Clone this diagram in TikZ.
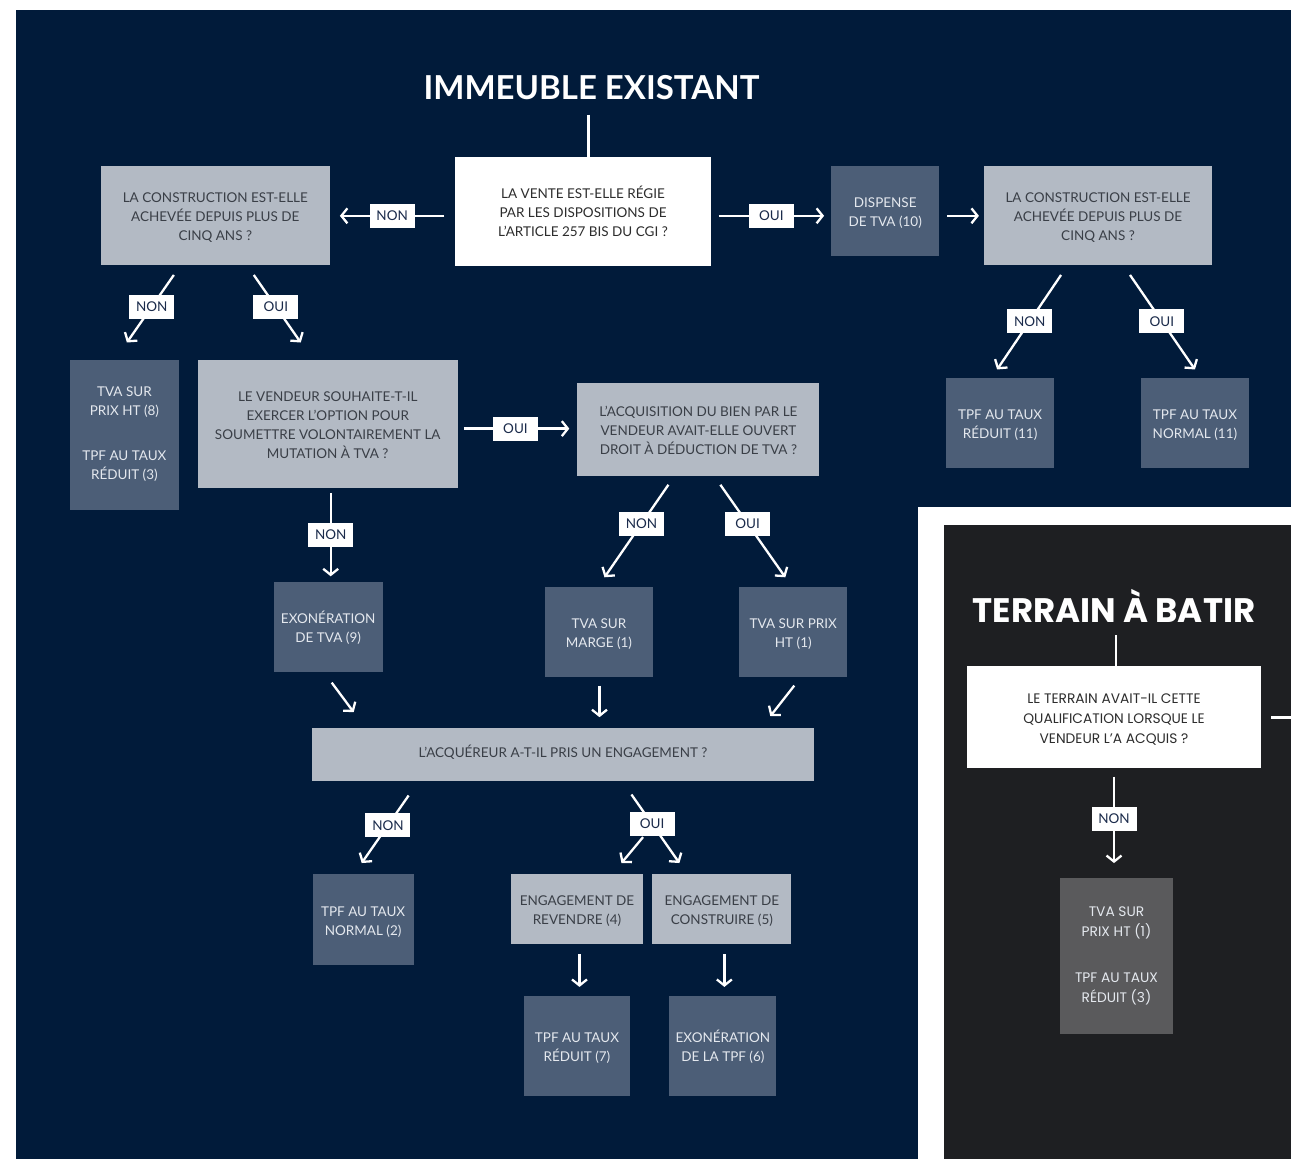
\documentclass[tikz,border=0pt]{standalone}
\usepackage{fontspec}
\setmainfont{Lato}
\newfontfamily\terrfont{Poppins}
\usetikzlibrary{arrows.meta,calc}
\definecolor{navy}{HTML}{011B3A}
\definecolor{lgray}{HTML}{B3BAC4}
\definecolor{slate}{HTML}{4C5E77}
\definecolor{charc}{HTML}{1E1F22}
\definecolor{tgray}{HTML}{5A5A5C}
\definecolor{darktxt}{HTML}{3A3F47}
\definecolor{wtxt}{HTML}{2D2D2D}
\definecolor{lbltxt}{HTML}{1B2B4B}
\definecolor{restxt}{HTML}{E4E8EE}
\newcommand{\bxfont}{\fontsize{13.5}{19}\selectfont}
\newcommand{\tbxfont}{\terrfont\fontsize{13.8}{20}\selectfont}
\newcommand{\TopR}{\rule{0pt}{18pt}}
\newcommand{\BotR}{\rule[-6pt]{0pt}{6pt}}
\newcommand{\TopS}{\rule{0pt}{14pt}}
\newcommand{\BotS}{\rule[-8pt]{0pt}{8pt}}
\begin{document}
\begin{tikzpicture}[x=1pt,y=-1pt,
  base/.style={inner sep=0pt,align=center,font=\bxfont},
  qw/.style={base,fill=white,text=wtxt},
  qg/.style={base,fill=lgray,text=darktxt},
  rs/.style={base,fill=slate,text=restxt},
  sz/.style 2 args={minimum width=#1pt,minimum height=#2pt},
  lbl/.style={fill=white,text=lbltxt,font=\bxfont,inner sep=0pt,minimum width=45pt,minimum height=24pt},
  ln/.style={draw=white,line width=2.3pt},
  arr/.style={ln,-{Straight Barb[length=6pt,width=15pt,line width=2.3pt]}},
  ttl/.style={text=white,inner sep=0pt}
]
% backgrounds
\fill[white] (0,0) rectangle (1292,1160);
\fill[navy] (16,10) rectangle (1292,1160);
\fill[white] (919,507) rectangle (1292,1160);
\fill[charc] (945,525) rectangle (1292,1160);

% titles
\node[ttl,font=\fontsize{33}{36}\selectfont\bfseries] (title1) at (592,88) {IMMEUBLE EXISTANT};
\node[ttl,font=\terrfont\fontsize{34}{38}\selectfont\bfseries] (title2) at (1115,606) {TERRAIN À BATIR};

% nodes
\node[qw,sz={257}{109}] (Q1) at (583.5,211.5) {\TopR LA VENTE EST-ELLE RÉGIE\\PAR LES DISPOSITIONS DE\\L’ARTICLE 257 BIS DU CGI ?\BotR};
\node[qg,sz={229}{99}] (A) at (215.5,215.5) {\TopR LA CONSTRUCTION EST-ELLE\\ACHEVÉE DEPUIS PLUS DE\\CINQ ANS ?\BotR};
\node[rs,sz={108}{90}] (DISP) at (886,211) {\TopR DISPENSE\\DE TVA (10)\BotR};
\node[qg,sz={228}{99}] (B) at (1099,215.5) {\TopR LA CONSTRUCTION EST-ELLE\\ACHEVÉE DEPUIS PLUS DE\\CINQ ANS ?\BotR};
\node[rs,sz={108}{90}] (C1) at (1001,423) {\TopR TPF AU TAUX\\RÉDUIT (11)\BotR};
\node[rs,sz={108}{90}] (C2) at (1196,423) {\TopR TPF AU TAUX\\NORMAL (11)\BotR};
\node[rs,sz={109}{150}] (TVA8) at (124.5,435) {\TopS TVA SUR\\PRIX HT (8)\\[26pt]TPF AU TAUX\\RÉDUIT (3)\BotS};
\node[qg,sz={260}{128}] (D) at (328,424) {\TopR LE VENDEUR SOUHAITE-T-IL\\EXERCER L’OPTION POUR\\SOUMETTRE VOLONTAIREMENT LA\\MUTATION À TVA ?\BotR};
\node[qg,sz={242}{93}] (E) at (699,429.5) {\TopR L’ACQUISITION DU BIEN PAR LE\\VENDEUR AVAIT-ELLE OUVERT\\DROIT À DÉDUCTION DE TVA ?\BotR};
\node[rs,sz={109}{90}] (F) at (328.5,628) {\TopR EXONÉRATION\\DE TVA (9)\BotR};
\node[rs,sz={109}{90}] (G) at (599.5,633) {\TopR TVA SUR\\MARGE (1)\BotR};
\node[rs,sz={108}{90}] (H) at (794,633) {\TopR TVA SUR PRIX\\HT (1)\BotR};
\node[qg,sz={503}{53}] (I) at (563.5,755.5) {\TopS L’ACQUÉREUR A-T-IL PRIS UN ENGAGEMENT ?\BotS};
\node[rs,sz={101}{91}] (J) at (363.5,920.5) {\TopR TPF AU TAUX\\NORMAL (2)\BotR};
\node[qg,sz={133}{70}] (K1) at (577.5,910) {\TopR ENGAGEMENT DE\\REVENDRE (4)\BotR};
\node[qg,sz={139}{70}] (K2) at (722.5,910) {\TopR ENGAGEMENT DE\\CONSTRUIRE (5)\BotR};
\node[rs,sz={107}{100}] (L1) at (577.5,1047) {\TopR TPF AU TAUX\\RÉDUIT (7)\BotR};
\node[rs,sz={107}{100}] (L2) at (723.5,1047) {\TopR EXONÉRATION\\DE LA TPF (6)\BotR};
\node[qw,sz={294}{102},font=\tbxfont,text=wtxt] (TQ) at (1115,718) {\TopR LE TERRAIN AVAIT-IL CETTE\\QUALIFICATION LORSQUE LE\\VENDEUR L’A ACQUIS ?\BotR};
\node[base,fill=tgray,text=restxt,sz={113}{156},font=\tbxfont] (TG) at (1117.5,957) {\TopS TVA SUR\\PRIX HT (1)\\[26pt]TPF AU TAUX\\RÉDUIT (3)\BotS};
\coordinate (redge) at (1292,718);

% connectors
\draw[ln] ($(Q1.north)+(5.5,-42)$) -- ($(Q1.north)+(5.5,0)$);
\draw[arr] ($(Q1.west)+(-10,4.5)$) -- node[lbl,pos=0.5]{NON} ($(A.east)+(10,0.5)$);
\draw[arr] ($(Q1.east)+(7,4.5)$) -- node[lbl,pos=0.5]{OUI} ($(DISP.west)+(-7,5)$);
\draw[arr] ($(DISP.east)+(8,5)$) -- ($(B.west)+(-5,0.5)$);
\draw[arr] ($(B.south)+(-37,10)$) -- node[lbl,pos=0.49]{NON} ($(C1.north)+(-3,-8)$);
\draw[arr] ($(B.south)+(32,10)$) -- node[lbl,pos=0.49]{OUI} ($(C2.north)+(0,-8)$);
\draw[arr] ($(A.south)+(-41.5,10)$) -- node[lbl,pos=0.47]{NON} ($(TVA8.north)+(2.5,-17)$);
\draw[arr] ($(A.south)+(38.5,10)$) -- node[lbl,pos=0.47]{OUI} ($(D.north)+(-27,-17)$);
\draw[arr] ($(D.east)+(6,5)$) -- node[lbl,pos=0.49]{OUI} ($(E.west)+(-8,-0.5)$);
\draw[arr] ($(D.south)+(3,5)$) -- node[lbl,pos=0.5]{NON} ($(F.north)+(2.5,-6)$);
\draw[arr] ($(E.south)+(-30,9)$) -- node[lbl,pos=0.42]{NON} ($(G.north)+(5.5,-10)$);
\draw[arr] ($(E.south)+(22,9)$) -- node[lbl,pos=0.42]{OUI} ($(H.north)+(-8,-10)$);
\draw[arr] ($(F.south)+(3.5,10)$) -- ($(I.north)+(-209.5,-16)$);
\draw[arr] ($(G.south)+(0.5,8)$) -- ($(I.north)+(36.5,-11)$);
\draw[arr] ($(H.south)+(1,8)$) -- ($(I.north)+(207.5,-12)$);
\draw[arr] ($(I.south)+(-154.5,14)$) -- node[lbl,pos=0.44]{NON} ($(J.north)+(-1.5,-11)$);
\draw[arr] ($(I.south)+(68.5,13)$) -- node[lbl,pos=0.43] (oui3) {OUI} ($(K2.north)+(-42.5,-11)$);
\draw[arr] ($(oui3.south)+(-9,0)$) -- ($(K1.north)+(44.5,-11)$);
\draw[arr] ($(K1.south)+(2.5,10)$) -- ($(L1.north)+(2.5,-9)$);
\draw[arr] ($(K2.south)+(2.5,10)$) -- ($(L2.north)+(1.5,-9)$);
% terrain
\draw[ln] ($(TQ.north)+(2,-31)$) -- ($(TQ.north)+(2,0)$);
\draw[arr] ($(TQ.south)+(0,8)$) -- node[lbl,pos=0.49]{NON} ($(TG.north)+(-2.5,-15)$);
\draw[ln] ($(TQ.east)+(10,0)$) -- (redge);
\end{tikzpicture}
\end{document}
